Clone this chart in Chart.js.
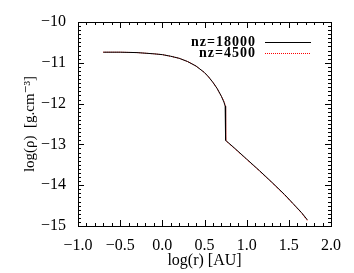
<!DOCTYPE html>
<html>
<head>
<meta charset="utf-8">
<script src="https://cdn.jsdelivr.net/npm/chart.js@4/dist/chart.umd.min.js"></script>
<style>
  html, body { margin: 0; padding: 0; background: #fff; }
  canvas { display: block; }
</style>
</head>
<body>
<canvas id="myChart" width="354" height="273"></canvas>
<script>
// log(r) [AU] and log(rho) for both runs
const logR18000 = [-0.70, -0.50, -0.30, -0.10, 0.00, 0.10, 0.20, 0.30, 0.40, 0.50, 0.55, 0.60, 0.65, 0.70, 0.73, 0.745, 0.75, 0.85, 1.00, 1.15, 1.30, 1.45, 1.55, 1.65, 1.72];
const logRho18000 = [-10.74, -10.74, -10.75, -10.78, -10.80, -10.84, -10.89, -10.97, -11.08, -11.24, -11.35, -11.48, -11.63, -11.82, -11.96, -12.06, -12.90, -13.08, -13.36, -13.64, -13.93, -14.23, -14.45, -14.67, -14.85];
const logR4500 = [-0.70, -0.50, -0.30, -0.10, 0.00, 0.10, 0.20, 0.30, 0.40, 0.50, 0.55, 0.60, 0.65, 0.70, 0.735, 0.752, 0.757, 0.85, 1.00, 1.15, 1.30, 1.45, 1.55, 1.65, 1.72];
const logRho4500 = [-10.74, -10.74, -10.75, -10.78, -10.80, -10.84, -10.89, -10.97, -11.08, -11.24, -11.35, -11.48, -11.63, -11.82, -11.97, -12.08, -12.92, -13.09, -13.37, -13.65, -13.94, -14.24, -14.46, -14.68, -14.87];

const xTicks = [-1.0, -0.5, 0.0, 0.5, 1.0, 1.5, 2.0];
const yTicks = [-15, -14, -13, -12, -11, -10];
const seriesNames = ['nz=18000', 'nz=4500'];

const police = "'Liberation Serif', 'DejaVu Serif', serif";

function moins(v, dec) {
  return v.toFixed(dec).replace('-', '\u2212');
}

function points(xs, ys) {
  return xs.map((x, i) => ({x: x, y: ys[i]}));
}

// ticks dedans sur les 4 cotes + cadre + legende, facon IDL
const cadreIDL = {
  id: 'cadreIDL',
  afterDraw(chart) {
    const ctx = chart.ctx;
    const a = chart.chartArea;
    const sx = chart.scales.x, sy = chart.scales.y;
    ctx.save();
    ctx.strokeStyle = '#000';
    ctx.lineWidth = 1;
    ctx.beginPath();
    for (let i = 0; i <= 30; i++) {
      const v = xTicks[0] + i * 0.1;
      const px = Math.round(sx.getPixelForValue(v)) + 0.5;
      const len = (i % 5 === 0) ? 6 : 3;
      ctx.moveTo(px, a.bottom); ctx.lineTo(px, a.bottom - len);
      ctx.moveTo(px, a.top); ctx.lineTo(px, a.top + len);
    }
    for (let i = 0; i <= 50; i++) {
      const v = yTicks[0] + i * 0.1;
      const py = Math.round(sy.getPixelForValue(v)) + 0.5;
      const len = (i % 10 === 0) ? 6 : 3;
      ctx.moveTo(a.left, py); ctx.lineTo(a.left + len, py);
      ctx.moveTo(a.right, py); ctx.lineTo(a.right - len, py);
    }
    ctx.stroke();
    ctx.strokeRect(Math.round(a.left) + 0.5, Math.round(a.top) + 0.5,
                   Math.round(a.right - a.left), Math.round(a.bottom - a.top));

    // legende
    ctx.font = 'bold 14px ' + police;
    ctx.letterSpacing = '1px';
    ctx.fillStyle = '#000';
    ctx.textAlign = 'right';
    ctx.textBaseline = 'middle';
    const lignes = [42, 53];
    const couleurs = ['#000000', '#ff0000'];
    const tirets = [[], [1, 1]];
    seriesNames.forEach((nom, i) => {
      ctx.fillText(nom, 256, lignes[i]);
      ctx.beginPath();
      ctx.strokeStyle = couleurs[i];
      ctx.lineWidth = 1;
      ctx.setLineDash(tirets[i]);
      ctx.moveTo(265, lignes[i] + 0.5);
      ctx.lineTo(311, lignes[i] + 0.5);
      ctx.stroke();
    });
    ctx.restore();
  }
};

const ctx = document.getElementById('myChart').getContext('2d');
new Chart(ctx, {
  type: 'line',
  data: {
    datasets: [
      {
        label: seriesNames[0],
        data: points(logR18000, logRho18000),
        borderColor: '#000000',
        borderWidth: 1,
        pointRadius: 0,
        tension: 0
      },
      {
        label: seriesNames[1],
        data: points(logR4500, logRho4500),
        borderColor: '#ff0000',
        borderWidth: 1,
        borderDash: [1, 1],
        pointRadius: 0,
        tension: 0
      }
    ]
  },
  options: {
    responsive: false,
    animation: false,
    layout: {padding: {left: 0, right: 23, top: 22, bottom: 0}},
    plugins: {
      legend: {display: false},
      tooltip: {enabled: false}
    },
    scales: {
      x: {
        type: 'linear',
        min: xTicks[0],
        max: xTicks[xTicks.length - 1],
        afterBuildTicks: (s) => { s.ticks = xTicks.map(v => ({value: v})); },
        afterFit: (s) => { s.height = 273 - 226; },
        grid: {display: false},
        border: {display: false},
        ticks: {
          color: '#000',
          font: {family: police, size: 16},
          padding: 2,
          maxRotation: 0,
          callback: (v) => moins(v, 1)
        },
        title: {
          display: true,
          text: 'log(r) [AU]',
          color: '#000',
          font: {family: police, size: 16},
          padding: {top: 0, bottom: 3}
        }
      },
      y: {
        type: 'linear',
        min: yTicks[0],
        max: yTicks[yTicks.length - 1],
        afterBuildTicks: (s) => { s.ticks = yTicks.map(v => ({value: v})); },
        afterFit: (s) => { s.width = 78; },
        grid: {display: false},
        border: {display: false},
        ticks: {
          color: '#000',
          font: {family: police, size: 16},
          padding: 4,
          callback: (v) => moins(v, 0)
        },
        title: {
          display: true,
          text: 'log(\u03C1)  [g.cm\u207B\u00B3]',
          color: '#000',
          font: {family: police, size: 15},
          padding: {top: 21, bottom: 0}
        }
      }
    }
  },
  plugins: [cadreIDL]
});
</script>
</body>
</html>
